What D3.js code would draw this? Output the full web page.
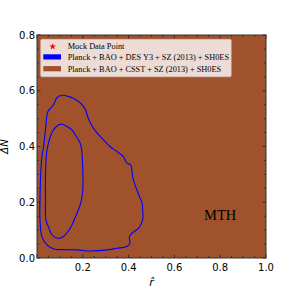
<!DOCTYPE html>
<html>
<head>
<meta charset="utf-8">
<script src="https://cdn.jsdelivr.net/npm/d3@7"></script>
<style>
  html, body { margin: 0; padding: 0; background: #fff; }
  .tick-label { font-family: "DejaVu Sans", sans-serif; font-size: 10px; fill: #000; }
  .legend-label { font-family: "Liberation Serif", "DejaVu Serif", serif; font-size: 8.3px; fill: #000; }
</style>
</head>
<body>
<div id="chart"></div>
<script>
'use strict';

// outer (95%) contour of Planck + BAO + DES Y3 + SZ (2013) + SH0ES, [r, dN]
const desOuter = [
  [0.016, 0.298], [0.022, 0.370], [0.028, 0.395], [0.037, 0.460], [0.047, 0.524],
  [0.061, 0.539], [0.074, 0.553], [0.087, 0.575], [0.100, 0.582], [0.118, 0.584],
  [0.135, 0.580], [0.153, 0.575], [0.188, 0.557], [0.210, 0.535], [0.223, 0.503],
  [0.240, 0.474], [0.262, 0.449], [0.283, 0.430], [0.319, 0.400], [0.349, 0.382],
  [0.377, 0.364], [0.392, 0.341], [0.409, 0.334], [0.415, 0.309], [0.421, 0.280],
  [0.450, 0.215], [0.459, 0.197], [0.462, 0.165], [0.462, 0.140], [0.445, 0.108],
  [0.415, 0.089], [0.403, 0.075], [0.406, 0.054], [0.393, 0.041], [0.349, 0.035],
  [0.306, 0.029], [0.231, 0.025], [0.175, 0.029], [0.109, 0.030], [0.074, 0.032],
  [0.044, 0.047], [0.022, 0.075], [0.013, 0.136], [0.013, 0.208]
];

// inner (68%) contour
const desInner = [
  [0.039, 0.136], [0.037, 0.208], [0.037, 0.298], [0.041, 0.370], [0.050, 0.413],
  [0.061, 0.442], [0.072, 0.460], [0.083, 0.470], [0.096, 0.478], [0.111, 0.480],
  [0.130, 0.472], [0.152, 0.460], [0.173, 0.434], [0.188, 0.413], [0.195, 0.388],
  [0.199, 0.334], [0.201, 0.269], [0.199, 0.233], [0.190, 0.194], [0.177, 0.165],
  [0.164, 0.140], [0.148, 0.111], [0.133, 0.093], [0.116, 0.077], [0.098, 0.071],
  [0.079, 0.074], [0.063, 0.086], [0.052, 0.108]
];

const xTicks = [0.2, 0.4, 0.6, 0.8, 1.0];
const yTicks = [0.0, 0.2, 0.4, 0.6, 0.8];
const legendLabels = [
  'Mock Data Point',
  'Planck + BAO + DES Y3 + SZ (2013) + SH0ES',
  'Planck + BAO + CSST + SZ (2013) + SH0ES'
];
const modelLabel = 'MTH';

const width = 296;
const height = 296;
const margin = {top: 35, right: 30, bottom: 38, left: 37};
const innerW = width - margin.left - margin.right;
const innerH = height - margin.top - margin.bottom;

const brown = '#a0522d';

const svg = d3.select('#chart').append('svg')
    .attr('width', width)
    .attr('height', height)
  .append('g')
    .attr('transform', 'translate(' + margin.left + ',' + margin.top + ')');

const x = d3.scaleLinear().domain([0, 1]).range([0, innerW]);
const y = d3.scaleLinear().domain([0, 0.8]).range([innerH, 0]);

// CSST contour covers whole panel
svg.append('rect')
  .attr('x', x(0)).attr('y', y(0.8))
  .attr('width', x(1) - x(0)).attr('height', y(0) - y(0.8))
  .attr('fill', brown);

const line = d3.line()
  .x(d => x(d[0]))
  .y(d => y(d[1]))
  .curve(d3.curveCatmullRomClosed.alpha(0.5));

[desOuter, desInner].forEach(c => {
  svg.append('path')
    .attr('d', line(c))
    .attr('fill', 'none')
    .attr('stroke', '#0000ff')
    .attr('stroke-width', 1.1);
});

// inward ticks on all sides
const xMinor = d3.range(0, 1.0001, 0.05);
const yMinor = d3.range(0, 0.8001, 0.05);
const isMajor = v => Math.abs(v / 0.2 - Math.round(v / 0.2)) < 1e-6;
const tickG = svg.append('g').attr('stroke', '#222').attr('stroke-width', 0.8);
xMinor.forEach(v => {
  const len = isMajor(v) ? 3.5 : 2;
  tickG.append('line').attr('x1', x(v)).attr('x2', x(v)).attr('y1', innerH).attr('y2', innerH - len);
  tickG.append('line').attr('x1', x(v)).attr('x2', x(v)).attr('y1', 0).attr('y2', len);
});
yMinor.forEach(v => {
  const len = isMajor(v) ? 3.5 : 2;
  tickG.append('line').attr('y1', y(v)).attr('y2', y(v)).attr('x1', 0).attr('x2', len);
  tickG.append('line').attr('y1', y(v)).attr('y2', y(v)).attr('x1', innerW).attr('x2', innerW - len);
});

svg.append('rect')
  .attr('width', innerW).attr('height', innerH)
  .attr('fill', 'none').attr('stroke', '#333').attr('stroke-width', 1);

svg.selectAll('.xl').data(xTicks).enter().append('text')
  .attr('class', 'tick-label')
  .attr('x', d => x(d)).attr('y', innerH + 13)
  .attr('text-anchor', 'middle')
  .text(d => d.toFixed(1));

svg.selectAll('.yl').data(yTicks).enter().append('text')
  .attr('class', 'tick-label')
  .attr('x', -2).attr('y', d => y(d) + 3.6)
  .attr('text-anchor', 'end')
  .text(d => d.toFixed(1));

svg.append('text')
  .attr('x', innerW / 2).attr('y', innerH + 28)
  .attr('text-anchor', 'middle')
  .style('font-family', '"DejaVu Sans", sans-serif')
  .style('font-size', '11px')
  .style('font-style', 'italic')
  .text('r\u0302');

svg.append('text')
  .attr('transform', 'translate(' + (-29) + ',' + (innerH / 2) + ') rotate(-90)')
  .attr('text-anchor', 'middle')
  .style('font-family', '"DejaVu Sans", sans-serif')
  .style('font-size', '10px')
  .style('font-style', 'italic')
  .text('\u0394N\u0302');

svg.append('text')
  .attr('x', x(0.8)).attr('y', y(0.135))
  .attr('text-anchor', 'middle')
  .style('font-family', '"Liberation Serif", serif')
  .style('font-size', '14.5px')
  .text(modelLabel);

// legend
const lg = svg.append('g').attr('transform', 'translate(3.7,4.3)');
lg.append('rect')
  .attr('width', 190.5).attr('height', 37.5).attr('rx', 1.5)
  .attr('fill', '#ecdcd5').attr('stroke', '#cfc6c2').attr('stroke-width', 0.6);

const rowY = [7.3, 17.6, 29.4];
lg.append('path')
  .attr('d', d3.symbol().type(d3.symbolStar).size(14)())
  .attr('transform', 'translate(12,' + rowY[0] + ')')
  .attr('fill', '#ff0000');
lg.append('rect').attr('x', 2.6).attr('y', rowY[1] - 2.6).attr('width', 17.7).attr('height', 5.2).attr('fill', '#0000ff');
lg.append('rect').attr('x', 2.6).attr('y', rowY[2] - 2.6).attr('width', 17.7).attr('height', 5.2).attr('fill', brown);

lg.selectAll('.legend-label').data(legendLabels).enter().append('text')
  .attr('class', 'legend-label')
  .attr('x', 27).attr('y', (d, i) => rowY[i] + 2.9)
  .text(d => d);
</script>
</body>
</html>
